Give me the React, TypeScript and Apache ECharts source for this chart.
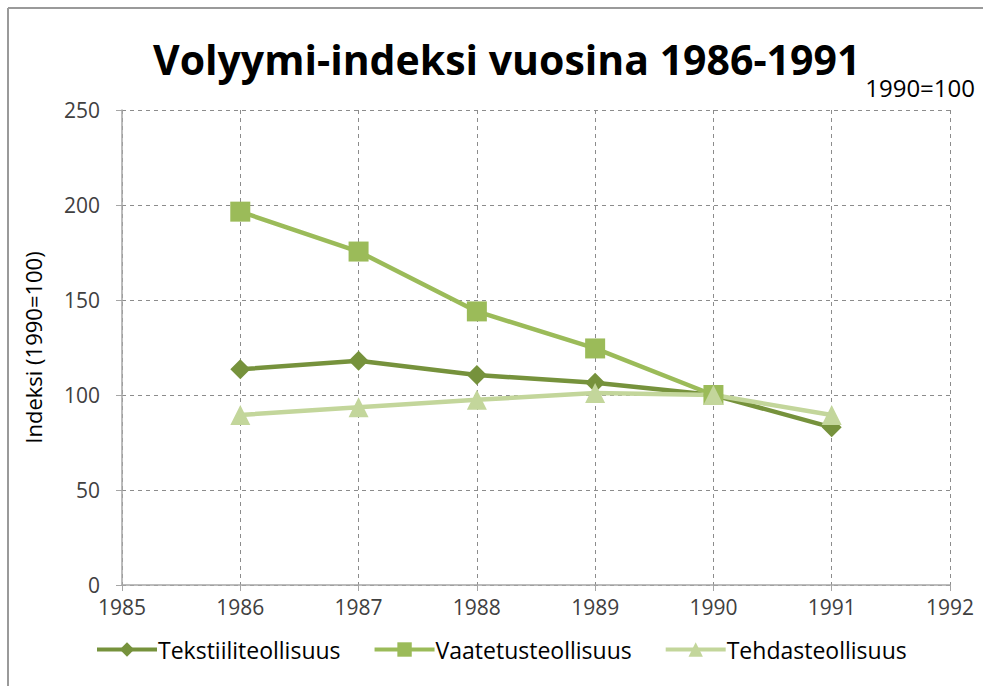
import React, { useEffect, useRef } from "react";
import * as echarts from "echarts";

const years = [1986, 1987, 1988, 1989, 1990, 1991];
const tekstiili = [113.5, 118, 110.5, 106.5, 100, 83];
const vaatetus = [196.5, 175.5, 144, 124.5, 100, null];
const tehdas = [89.5, 93.5, 97.5, 101, 100, 89.5];
const seriesNames = ["Tekstiiliteollisuus", "Vaatetusteollisuus", "Tehdasteollisuus"];
const colors = ["#76923C", "#9BBB59", "#C3D69B"];

const FONT = "Open Sans";

export default function App() {
  const ref = useRef<HTMLDivElement>(null);
  useEffect(() => {
    document.body.style.margin = "0";
    const chart = echarts.init(ref.current!, null, { renderer: "svg" });
    const mk = (vals: (number | null)[]) => years.map((y, i) => [y, vals[i]]);
    chart.setOption({
      animation: false,
      backgroundColor: "#ffffff",
      textStyle: { fontFamily: FONT },
      title: {
        text: "Volyymi-indeksi vuosina 1986-1991",
        left: 148,
        top: 33,
        textStyle: { fontFamily: FONT, fontSize: 41, fontWeight: "bold", color: "#000" },
      },
      graphic: [
        { type: "line", shape: { x1: 8, y1: 8, x2: 983, y2: 8 }, style: { stroke: "#9a9a9a", lineWidth: 2 } },
        { type: "line", shape: { x1: 8, y1: 8, x2: 8, y2: 686 }, style: { stroke: "#9a9a9a", lineWidth: 2 } },
        {
          type: "text",
          right: 8,
          top: 75,
          style: { text: "1990=100", font: `24px "${FONT}"`, fill: "#000" },
        },
      ],
      legend: {
        left: 90,
        top: 633,
        itemWidth: 60,
        itemHeight: 18,
        itemGap: 32,
        lineStyle: { width: 4 },
        textStyle: { fontFamily: FONT, fontSize: 23, color: "#000", padding: [0, 0, 0, -4] },
        data: seriesNames,
      },
      grid: { left: 122, right: 33, top: 110, bottom: 101, containLabel: false },
      xAxis: {
        type: "value",
        min: 1985,
        max: 1992,
        interval: 1,
        axisLine: { show: true, lineStyle: { color: "#a6a6a6", width: 1.5 } },
        axisTick: { show: true, length: 6, lineStyle: { color: "#a6a6a6" } },
        axisLabel: {
          formatter: (v: number) => String(v),
          fontFamily: FONT,
          fontSize: 21,
          color: "#404040",
          margin: 11,
        },
        splitLine: { show: true, lineStyle: { color: "#8c8c8c", type: [4, 4], width: 1 } },
      },
      yAxis: {
        type: "value",
        min: 0,
        max: 250,
        interval: 50,
        name: "Indeksi (1990=100)",
        nameLocation: "middle",
        nameGap: 78,
        nameTextStyle: { fontFamily: FONT, fontSize: 22, color: "#000" },
        axisLine: { show: true, lineStyle: { color: "#a6a6a6", width: 1.5 } },
        axisTick: { show: true, length: 6, lineStyle: { color: "#a6a6a6" } },
        axisLabel: { fontFamily: FONT, fontSize: 21, color: "#404040", margin: 22 },
        splitLine: { show: true, lineStyle: { color: "#8c8c8c", type: [4, 4], width: 1 } },
      },
      series: [
        {
          name: seriesNames[0],
          type: "line",
          data: mk(tekstiili),
          symbol: "diamond",
          symbolSize: 20,
          lineStyle: { width: 4.5, color: colors[0] },
          itemStyle: { color: colors[0] },
        },
        {
          name: seriesNames[1],
          type: "line",
          data: mk(vaatetus),
          symbol: "rect",
          symbolSize: 20,
          lineStyle: { width: 4.5, color: colors[1] },
          itemStyle: { color: colors[1] },
        },
        {
          name: seriesNames[2],
          type: "line",
          data: mk(tehdas),
          symbol: "triangle",
          symbolSize: 20,
          lineStyle: { width: 4.5, color: colors[2] },
          itemStyle: { color: colors[2] },
        },
      ],
    });
    return () => chart.dispose();
  }, []);
  return <div ref={ref} style={{ width: 983, height: 686 }} />;
}
